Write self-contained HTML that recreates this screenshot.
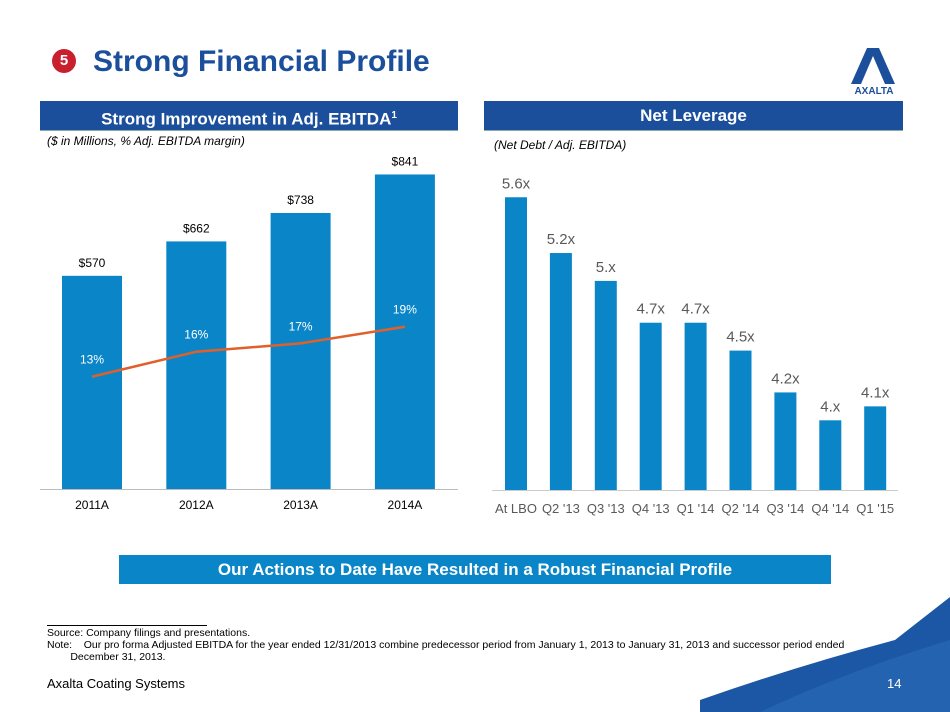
<!DOCTYPE html>
<html><head><meta charset="utf-8"><style>
body{margin:0;width:950px;height:712px;overflow:hidden;background:#fff;font-family:"Liberation Sans",Arial,sans-serif;position:relative}
.a{position:absolute}
.hdr{background:#1b4f9c;color:#fff;font-weight:bold;font-size:17px;text-align:center;line-height:29px;border-bottom:1px solid #8aa}
</style></head><body>
<svg class="a" style="left:0;top:0" width="950" height="712">
<path d="M700,712 L700,700 Q800,665 895,640 L950,597 L950,712Z" fill="#1c57a5"/>
<path d="M760,712 Q850,670 950,640 L950,712Z" fill="#2a6ab8" opacity="0.6"/>
</svg>
<div class="a" style="left:52px;top:49px;width:24px;height:24px;border-radius:50%;background:#c8202f;color:#fff;font-weight:bold;font-size:15px;text-align:center;line-height:24px">5</div>
<div class="a" style="left:93px;top:45px;font-size:30px;font-weight:bold;color:#1b4f9c">Strong Financial Profile</div>
<svg class="a" style="left:843px;top:46px" width="62" height="50">
<path d="M8,38 L24,2 L36,2 L52,38 L42,38 L30,10 L18,38Z" fill="#1b4f9c"/>
<text x="31" y="48" text-anchor="middle" font-size="10" font-weight="bold" fill="#1b4f9c" font-family="Liberation Sans">AXALTA</text></svg>
<div class="a hdr" style="left:40px;top:101px;width:418px;height:29px">Strong Improvement in Adj. EBITDA<sup style="font-size:10px">1</sup></div>
<div class="a hdr" style="left:484px;top:101px;width:419px;height:29px">Net Leverage</div>
<div class="a" style="left:47px;top:134px;font-size:12px;font-style:italic">($ in Millions, % Adj. EBITDA margin)</div>
<div class="a" style="left:494px;top:138px;font-size:12px;font-style:italic">(Net Debt / Adj. EBITDA)</div>
<svg id="c" class="a" style="left:0;top:0" width="950" height="712"></svg>
<div class="a" style="left:119px;top:555px;width:712px;height:29px;background:#0a86c8;color:#fff;font-weight:bold;font-size:17px;text-align:center;line-height:29px">Our Actions to Date Have Resulted in a Robust  Financial Profile</div>
<div class="a" style="left:47px;top:625px;width:160px;border-top:1px solid #000"></div>
<div class="a" style="left:47px;top:627px;width:806px;font-size:10.5px;line-height:12px;text-align:justify">Source: Company filings and presentations.<br>Note:&nbsp;&nbsp;&nbsp; Our pro forma Adjusted EBITDA for the year ended 12/31/2013 combine predecessor period from January 1, 2013 to January 31, 2013 and successor period ended<br>&nbsp;&nbsp;&nbsp;&nbsp;&nbsp;&nbsp;&nbsp;&nbsp;December 31, 2013.</div>
<div class="a" style="left:47px;top:676px;font-size:13px">Axalta Coating Systems</div>
<div class="a" style="left:887px;top:676px;font-size:13px;color:#fff">14</div>
<script>
const years=["2011A","2012A","2013A","2014A"];
const ebitda=[570,662,738,841];
const margin=[13,16,17,19];
const levCats=["At LBO","Q2 '13","Q3 '13","Q4 '13","Q1 '14","Q2 '14","Q3 '14","Q4 '14","Q1 '15"];
const lev=[5.6,5.2,5.0,4.7,4.7,4.5,4.2,4.0,4.1];
const levLabels=["5.6x","5.2x","5.x","4.7x","4.7x","4.5x","4.2x","4.x","4.1x"];
const svg=document.getElementById('c');const NS='http://www.w3.org/2000/svg';
function mk(t,a,txt){const e=document.createElementNS(NS,t);for(const k in a)e.setAttribute(k,a[k]);if(txt!==undefined)e.textContent=txt;svg.appendChild(e);return e;}
const ex=i=>92+i*104.3, ey=v=>489-v*0.374, my=p=>485-p*8.33;
let e=mk('line',{x1:40,x2:458,y1:489.5,y2:489.5,stroke:'#bbb'});

years.forEach((y,i)=>{
 e=mk('rect',{x:ex(i)-30,y:ey(ebitda[i]),width:60,height:489-ey(ebitda[i]),fill:'#0a86c8'});
 
 e=mk('text',{x:ex(i),y:ey(ebitda[i])-9,'text-anchor':'middle','font-size':12},'$'+ebitda[i]);
 
 e=mk('text',{x:ex(i),y:509,'text-anchor':'middle','font-size':12},y);
 
 e=mk('text',{x:ex(i),y:my(margin[i])-13,'text-anchor':'middle','font-size':12,fill:'#fff'},margin[i]+'%');
 
});
e=mk('polyline',{points:margin.map((p,i)=>ex(i)+','+my(p)).join(' '),fill:'none',stroke:'#e0602a','stroke-width':2.5});

const lx=i=>516+i*44.9, ly=v=>490-(v-3.5)*139.4;
e=mk('line',{x1:492,x2:898,y1:490.5,y2:490.5,stroke:'#ccc'});

levCats.forEach((c,i)=>{
 e=mk('rect',{x:lx(i)-11,y:ly(lev[i]),width:22,height:490-ly(lev[i]),fill:'#0a86c8'});
 
 e=mk('text',{x:lx(i),y:ly(lev[i])-9,'text-anchor':'middle','font-size':15,fill:'#595959'},levLabels[i]);
 
 e=mk('text',{x:lx(i),y:513,'text-anchor':'middle','font-size':13,fill:'#595959'},c);
 
});
</script>
</body></html>
